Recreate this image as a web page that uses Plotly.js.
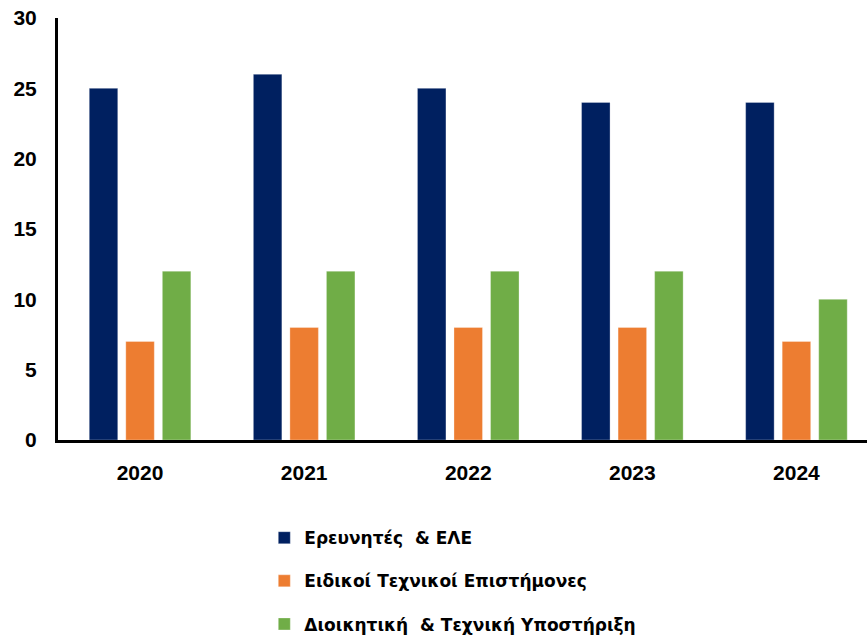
<!DOCTYPE html>
<html>
<head>
<meta charset="utf-8">
<script src="https://cdn.plot.ly/plotly-3.0.1.min.js"></script>
<style>html,body{margin:0;padding:0;background:#fff;}#chart{width:867px;height:641px;}</style>
</head>
<body>
<div id="chart"></div>
<script>
const years = ['2020', '2021', '2022', '2023', '2024'];
const seriesNames = ['Ερευνητές  & ΕΛΕ', 'Ειδικοί Τεχνικοί Επιστήμονες', 'Διοικητική  & Τεχνική Υποστήριξη'];
const researchers = [25, 26, 25, 24, 24];
const specialists = [7, 8, 8, 8, 7];
const support = [12, 12, 12, 12, 10];
const colors = ['#002060', '#ED7D31', '#70AD47'];
const yTicks = [0, 5, 10, 15, 20, 25, 30];

const values = [researchers, specialists, support];
const traces = values.map((v, i) => ({
  type: 'bar',
  name: seriesNames[i],
  x: years,
  y: v,
  marker: {color: colors[i], line: {color: 'rgba(255,255,255,0.6)', width: 0.5}},
  legendgroup: 'g' + i,
  hoverinfo: 'x+y+name'
}));

const layout = {
  width: 867,
  height: 641,
  margin: {l: 58, r: 0, t: 18, b: 201, pad: 0, autoexpand: false},
  paper_bgcolor: '#fff',
  plot_bgcolor: '#fff',
  font: {family: 'Liberation Sans, Arial, sans-serif', color: '#000'},
  barmode: 'group',
  bargap: 0.332,
  bargroupgap: 0.22,
  showlegend: true,
  legend: {
    orientation: 'v',
    x: 0.255, xanchor: 'left',
    y: -0.19, yanchor: 'top',
    font: {size: 17, color: '#000', family: 'DejaVu Sans, sans-serif', weight: 'bold'},
    tracegroupgap: 18,
    traceorder: 'grouped',
    bgcolor: 'rgba(0,0,0,0)'
  },
  xaxis: {
    type: 'category',
    range: [-0.5, 4.43],
    showline: true, linecolor: '#000', linewidth: 3,
    showgrid: false, zeroline: false,
    ticks: '',
    ticklabelstandoff: 12,
    tickfont: {size: 21, family: 'Liberation Sans, Arial, sans-serif', weight: 'bold', color: '#000'}
  },
  yaxis: {
    range: [0, 30],
    tickvals: yTicks,
    ticktext: yTicks.map(String),
    showline: true, linecolor: '#000', linewidth: 3,
    showgrid: false, zeroline: false,
    ticks: '',
    ticklabelstandoff: 14,
    tickfont: {size: 21, family: 'Liberation Sans, Arial, sans-serif', weight: 'bold', color: '#000'}
  }
};

Plotly.newPlot('chart', traces, layout, {displayModeBar: false, staticPlot: true});
</script>
</body>
</html>
